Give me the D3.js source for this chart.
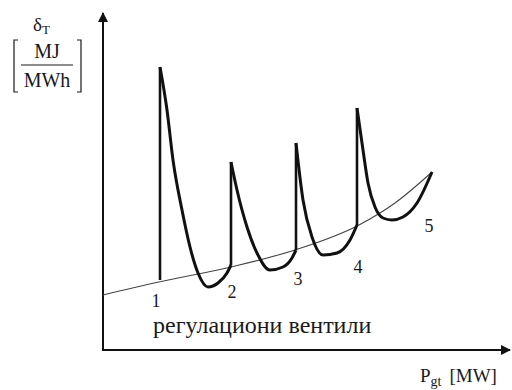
<!DOCTYPE html>
<html>
<head>
<meta charset="utf-8">
<script src="https://cdn.jsdelivr.net/npm/d3@7"></script>
<style>
  body { margin: 0; background: #fff; }
  svg { font-family: "Liberation Serif", "Times New Roman", "DejaVu Serif", serif; }
</style>
</head>
<body>
<svg id="canvas"></svg>
<script>
const width = 512;
const height = 390;

// thin envelope line through the valve points
const envelope = [[0, 11], [14, 13.6], [32, 16.6], [48, 20], [64, 25], [73, 29.4], [82.25, 35.6]];

// valve opening points: x, base (on envelope), peak
const valves = [
  { x: 14.25, base: 14, peak: 56.6 },
  { x: 32, base: 17, peak: 37.6 },
  { x: 48.25, base: 20, peak: 41.4 },
  { x: 63.5, base: 25, peak: 48.4 }
];

// thick curve between valve points (peak -> minimum -> next valve)
const segments = [
  [[14.25, 56.6], [16, 48], [17.5, 38], [19.75, 28], [21.75, 20.6], [23.75, 15.4], [26.25, 12.6], [28.75, 13.4], [31, 15.4], [32, 17]],
  [[32, 37.6], [33.5, 32], [36, 24.6], [38.5, 19.4], [41.75, 16], [45, 16.6], [47.25, 18.4], [48.25, 20]],
  [[48.25, 41.4], [50, 30], [52.25, 22.6], [55, 19], [58.5, 19.4], [61.75, 22], [63.5, 25]],
  [[63.5, 48.4], [65, 40], [66.25, 33.4], [68, 28.6], [70, 26.4], [72.25, 26], [75, 26.6], [78.5, 29.4], [82.25, 35.6]]
];

const pointLabels = ['1', '2', '3', '4', '5'];
const pointLabelPos = [[13.25, 8.6], [32.25, 10.4], [48.75, 13], [63.75, 15.4], [81.5, 23.6]];

const caption = 'регулациони вентили';

const x = d3.scaleLinear().domain([0, 100]).range([103, 503]);
const y = d3.scaleLinear().domain([0, 68]).range([350, 10]);

const svg = d3.select('#canvas')
  .attr('width', width)
  .attr('height', height);

const defs = svg.append('defs');
defs.append('marker')
  .attr('id', 'arrow')
  .attr('viewBox', '0 0 10 10')
  .attr('refX', 9)
  .attr('refY', 5)
  .attr('markerWidth', 5)
  .attr('markerHeight', 5)
  .attr('orient', 'auto')
  .append('path')
  .attr('d', 'M0,0 L10,5 L0,10 z')
  .attr('fill', '#111');

// axes
svg.append('line')
  .attr('x1', x(0)).attr('y1', y(0))
  .attr('x2', x(0)).attr('y2', 13)
  .attr('stroke', '#111').attr('stroke-width', 2)
  .attr('marker-end', 'url(#arrow)');

svg.append('line')
  .attr('x1', x(0) - 1).attr('y1', y(0))
  .attr('x2', 510).attr('y2', y(0))
  .attr('stroke', '#111').attr('stroke-width', 2)
  .attr('marker-end', 'url(#arrow)');

const smooth = d3.line()
  .x(d => x(d[0]))
  .y(d => y(d[1]))
  .curve(d3.curveMonotoneX);

svg.append('path')
  .attr('d', smooth(envelope))
  .attr('fill', 'none')
  .attr('stroke', '#444')
  .attr('stroke-width', 1.1);

svg.selectAll('.valve')
  .data(valves)
  .enter()
  .append('line')
  .attr('class', 'valve')
  .attr('x1', d => x(d.x)).attr('x2', d => x(d.x))
  .attr('y1', d => y(d.base)).attr('y2', d => y(d.peak))
  .attr('stroke', '#111')
  .attr('stroke-width', 2.6);

svg.selectAll('.seg')
  .data(segments)
  .enter()
  .append('path')
  .attr('class', 'seg')
  .attr('d', smooth)
  .attr('fill', 'none')
  .attr('stroke', '#111')
  .attr('stroke-width', 3)
  .attr('stroke-linejoin', 'round');

const textFill = '#1a1a1a';

svg.selectAll('.num')
  .data(pointLabels)
  .enter()
  .append('text')
  .attr('class', 'num')
  .attr('x', (d, i) => x(pointLabelPos[i][0]))
  .attr('y', (d, i) => y(pointLabelPos[i][1]))
  .attr('text-anchor', 'middle')
  .attr('fill', textFill)
  .style('font-size', '18px')
  .text(d => d);

svg.append('text')
  .attr('x', 153)
  .attr('y', 333)
  .attr('fill', textFill)
  .style('font-size', '24px')
  .text(caption);

// x axis title
const xt = svg.append('text')
  .attr('x', 420)
  .attr('y', 382)
  .attr('fill', textFill)
  .style('font-size', '19px');
xt.append('tspan').text('P');
xt.append('tspan').attr('dy', 4).style('font-size', '14px').text('gt');
xt.append('tspan').attr('dy', -4).attr('dx', 8).text('[MW]');

// y axis title
const yt = svg.append('text')
  .attr('x', 33)
  .attr('y', 31)
  .attr('fill', textFill)
  .style('font-size', '19px');
yt.append('tspan').text('δ');
yt.append('tspan').attr('dy', 3).style('font-size', '13px').text('T');

svg.append('text')
  .attr('x', 47).attr('y', 58)
  .attr('text-anchor', 'middle')
  .attr('fill', textFill)
  .style('font-size', '20px')
  .text('MJ');

svg.append('line')
  .attr('x1', 21).attr('x2', 73)
  .attr('y1', 65).attr('y2', 65)
  .attr('stroke', textFill).attr('stroke-width', 1.2);

svg.append('text')
  .attr('x', 47).attr('y', 87)
  .attr('text-anchor', 'middle')
  .attr('fill', textFill)
  .style('font-size', '20px')
  .text('MWh');

svg.append('path')
  .attr('d', 'M18,40 L14,40 L14,92 L18,92')
  .attr('fill', 'none').attr('stroke', textFill).attr('stroke-width', 1.2);

svg.append('path')
  .attr('d', 'M77,40 L81,40 L81,92 L77,92')
  .attr('fill', 'none').attr('stroke', textFill).attr('stroke-width', 1.2);
</script>
</body>
</html>
